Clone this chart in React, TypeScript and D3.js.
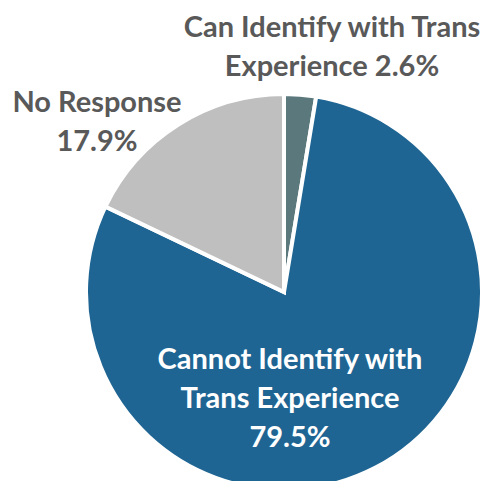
import React from "react";
import * as d3 from "d3";

const categories = ["Can Identify with Trans Experience", "Cannot Identify with Trans Experience", "No Response"];
const values = [2.6, 79.5, 17.9];
const colors = ["#5B797D", "#1F6593", "#BFBFBF"];
const labelLines = [
  ["Can Identify with Trans", "Experience 2.6%"],
  ["Cannot Identify with", "Trans Experience", "79.5%"],
  ["No Response", "17.9%"],
];

const W = 487;
const H = 481;
const cx = 284;
const cy = 292;
const R = 198;

export default function App() {
  const pie = d3.pie<number>().sort(null).value((d) => d)(values);
  const arc = d3.arc<d3.PieArcDatum<number>>().innerRadius(0).outerRadius(R);

  const labelPos = [
    { x: 332, y: 37, fill: "#595959" },
    { x: 290, y: 369, fill: "#FFFFFF" },
    { x: 97, y: 112, fill: "#595959" },
  ];
  const lineH = 39;

  return (
    <div style={{ position: "absolute", left: 0, top: 0 }}>
      <svg width={W} height={H} style={{ display: "block" }}>
        <rect width={W} height={H} fill="#FFFFFF" />
        <g transform={`translate(${cx},${cy})`}>
          {pie.map((p, i) => (
            <path key={categories[i]} d={arc(p) || ""} fill={colors[i]} stroke="#FFFFFF" strokeWidth={4} strokeLinejoin="miter" />
          ))}
        </g>
        {labelLines.map((lines, i) => (
          <text
            key={categories[i]}
            textAnchor="middle"
            fontFamily="Lato, 'Open Sans', sans-serif"
            fontWeight={700}
            fontSize={29}
            fill={labelPos[i].fill}
          >
            {lines.map((l, j) => (
              <tspan key={j} x={labelPos[i].x} y={labelPos[i].y + j * lineH}>
                {l}
              </tspan>
            ))}
          </text>
        ))}
      </svg>
    </div>
  );
}
